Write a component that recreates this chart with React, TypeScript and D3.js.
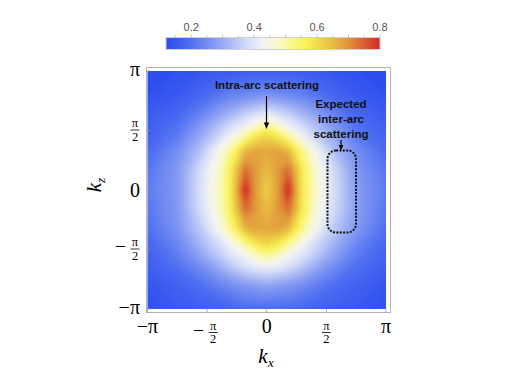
import React from "react";
import * as d3 from "d3";

// grid nodes in units of pi
const kxNodes = [-1, -0.75, -0.55, -0.4, -0.3, -0.18, -0.09, 0, 0.09, 0.18, 0.3, 0.4, 0.55, 0.75, 1];
const kzNodes = [1, 0.8, 0.65, 0.55, 0.45, 0.33, 0.17, 0, -0.17, -0.33, -0.45, -0.55, -0.65, -0.8, -1];
const fieldRows = [
  [0.12, 0.13, 0.14, 0.15, 0.15, 0.16, 0.16, 0.16, 0.16, 0.16, 0.15, 0.15, 0.14, 0.13, 0.12],
  [0.13, 0.15, 0.18, 0.21, 0.23, 0.24, 0.25, 0.26, 0.25, 0.24, 0.23, 0.21, 0.18, 0.15, 0.13],
  [0.15, 0.18, 0.23, 0.28, 0.31, 0.35, 0.37, 0.39, 0.37, 0.35, 0.31, 0.28, 0.23, 0.18, 0.15],
  [0.16, 0.2, 0.27, 0.33, 0.37, 0.41, 0.46, 0.5, 0.46, 0.41, 0.37, 0.33, 0.27, 0.2, 0.16],
  [0.17, 0.22, 0.3, 0.37, 0.43, 0.51, 0.58, 0.61, 0.58, 0.51, 0.43, 0.37, 0.3, 0.22, 0.17],
  [0.19, 0.25, 0.34, 0.44, 0.52, 0.65, 0.68, 0.67, 0.68, 0.65, 0.52, 0.44, 0.34, 0.25, 0.19],
  [0.21, 0.27, 0.38, 0.47, 0.57, 0.74, 0.69, 0.64, 0.69, 0.74, 0.57, 0.47, 0.38, 0.27, 0.21],
  [0.22, 0.27, 0.39, 0.48, 0.57, 0.81, 0.68, 0.62, 0.68, 0.81, 0.57, 0.48, 0.39, 0.28, 0.22],
  [0.21, 0.27, 0.38, 0.47, 0.57, 0.74, 0.69, 0.64, 0.69, 0.74, 0.57, 0.47, 0.38, 0.28, 0.21],
  [0.2, 0.26, 0.35, 0.44, 0.52, 0.65, 0.68, 0.67, 0.68, 0.65, 0.52, 0.44, 0.35, 0.27, 0.2],
  [0.18, 0.24, 0.32, 0.38, 0.44, 0.52, 0.58, 0.61, 0.58, 0.52, 0.44, 0.38, 0.32, 0.24, 0.18],
  [0.17, 0.22, 0.29, 0.35, 0.39, 0.43, 0.48, 0.52, 0.48, 0.43, 0.39, 0.35, 0.29, 0.22, 0.17],
  [0.16, 0.2, 0.25, 0.3, 0.34, 0.38, 0.4, 0.41, 0.4, 0.38, 0.34, 0.3, 0.25, 0.2, 0.16],
  [0.14, 0.17, 0.2, 0.23, 0.25, 0.27, 0.28, 0.29, 0.28, 0.27, 0.25, 0.23, 0.2, 0.17, 0.14],
  [0.13, 0.15, 0.16, 0.17, 0.18, 0.19, 0.19, 0.19, 0.19, 0.19, 0.18, 0.17, 0.16, 0.15, 0.13],
];

const axisTicks = [-1, -0.5, 0, 0.5, 1];
const axisTickLabels = ["−π", "−π/2", "0", "π/2", "π"];
const barTicks = [0.2, 0.4, 0.6, 0.8];
const barDomain = [0.12, 0.8];

// temperature-like colour map
const stopValues = [0.12, 0.2, 0.3, 0.38, 0.43, 0.48, 0.53, 0.57, 0.62, 0.7, 0.8];
const stopColors = ["#2d4cef", "#4f6ff1", "#98aaf3", "#d6def8", "#f3f3f5", "#f8f8c6", "#fbf77a", "#f8ef52", "#edcf48", "#e0943a", "#d32727"];

const PI = Math.PI;
const serif = "'Liberation Serif', 'DejaVu Serif', serif";
const sans = "'Liberation Sans', Arial, sans-serif";

function TickLabel({ label, x, y, anchor }: { label: string; x: number; y: number; anchor: "middle" | "end" }) {
  if (!label.includes("/")) {
    return (
      <text x={x} y={y} textAnchor={anchor} fontFamily={serif} fontSize={20}>
        {label}
      </text>
    );
  }
  const neg = label.startsWith("−");
  const fracX = anchor === "middle" ? x + (neg ? 6 : 0) : x - 5;
  return (
    <g fontFamily={serif}>
      {neg && (
        <text x={fracX - 9} y={y + 3.5} textAnchor="end" fontSize={20}>
          −
        </text>
      )}
      <text x={fracX} y={y - 3.5} textAnchor="middle" fontSize={12.5}>
        π
      </text>
      <line x1={fracX - 4.5} x2={fracX + 4.5} y1={y - 0.5} y2={y - 0.5} stroke="#000" strokeWidth={0.8} />
      <text x={fracX} y={y + 10} textAnchor="middle" fontSize={12.5}>
        2
      </text>
    </g>
  );
}

export default function App() {
  const x = d3.scaleLinear().domain([-PI, PI]).range([147.5, 386]);
  const y = d3.scaleLinear().domain([-PI, PI]).range([309, 71]);
  const color = d3.scaleLinear<string>().domain(stopValues).range(stopColors).interpolate(d3.interpolateRgb).clamp(true);
  const bar = d3.scaleLinear().domain(barDomain).range([166, 380]);

  const nx = kxNodes.length;
  const nz = kzNodes.length;
  // grid index space -> screen (value i sits at index i + 0.5)
  const gx = d3
    .scaleLinear()
    .domain([0, ...kxNodes.map((_, i) => i + 0.5), nx])
    .range([x(-PI) - 10, ...kxNodes.map((k) => x(k * PI)), x(PI) + 10]);
  const gy = d3
    .scaleLinear()
    .domain([0, ...kzNodes.map((_, i) => i + 0.5), nz])
    .range([y(PI) - 10, ...kzNodes.map((k) => y(k * PI)), y(-PI) + 10]);
  const toScreen = d3.geoTransform({
    point(px: number, py: number) {
      (this as any).stream.point(gx(px), gy(py));
    },
  });
  const path = d3.geoPath(toScreen);
  const thresholds = d3.range(0.1, 0.86, 0.01);
  const bands = d3.contours().size([nx, nz]).thresholds(thresholds)(fieldRows.flat());

  const minorBar = d3.range(0.15, 0.8001, 0.05);

  return (
    <svg width={523} height={370} style={{ position: "absolute", left: 0, top: 0, background: "#fff" }}>
      <defs>
        <filter id="smooth" x="-10%" y="-10%" width="120%" height="120%">
          <feGaussianBlur stdDeviation={2} />
        </filter>
        <clipPath id="plotClip">
          <rect x={x(-PI)} y={y(PI)} width={x(PI) - x(-PI)} height={y(-PI) - y(PI)} />
        </clipPath>
        <linearGradient id="barGrad" x1="0" x2="1" y1="0" y2="0">
          {stopValues.map((v, i) => (
            <stop key={i} offset={(v - barDomain[0]) / (barDomain[1] - barDomain[0])} stopColor={stopColors[i]} />
          ))}
        </linearGradient>
      </defs>

      {/* colour bar */}
      <rect x={bar(barDomain[0])} y={37.5} width={bar(barDomain[1]) - bar(barDomain[0])} height={12} fill="url(#barGrad)" stroke="#d0d0d0" strokeWidth={1} />
      {minorBar.map((v, i) => {
        const major = Math.abs(Math.round(v * 10) - v * 10) < 0.01;
        return <line key={i} x1={bar(v)} x2={bar(v)} y1={37.5} y2={major ? 34.5 : 35.5} stroke="#aaa" strokeWidth={0.7} />;
      })}
      {barTicks.map((t) => (
        <text key={t} x={bar(t)} y={31} textAnchor="middle" fontFamily={sans} fontSize={11} fill="#555">
          {t.toFixed(1)}
        </text>
      ))}

      {/* density map */}
      <g clipPath="url(#plotClip)">
        <g filter="url(#smooth)">
          {bands.map((b, i) => (
            <path key={i} d={path(b as any) || ""} fill={color(b.value + 0.005)} stroke={color(b.value + 0.005)} strokeWidth={0.5} />
          ))}
        </g>
      </g>

      {/* frame */}
      <rect x={146.5} y={67.5} width={244} height={245} fill="none" stroke="#b4b4b4" strokeWidth={1} />
      {axisTicks.map((t) => (
        <g key={t}>
          <line x1={x(t * PI)} x2={x(t * PI)} y1={312.5} y2={309} stroke="#999" strokeWidth={0.8} />
          <line x1={146.5} x2={150} y1={y(t * PI)} y2={y(t * PI)} stroke="#999" strokeWidth={0.8} />
        </g>
      ))}
      {axisTicks.map((t, i) => (
        <TickLabel key={"x" + t} label={axisTickLabels[i]} x={x(t * PI)} y={333} anchor="middle" />
      ))}
      {axisTicks.map((t, i) => (
        <TickLabel key={"y" + t} label={axisTickLabels[i]} x={140} y={y(t * PI) + (axisTickLabels[i].includes("/") ? 0 : axisTickLabels[i] === "0" ? 6.5 : 4.5)} anchor="end" />
      ))}

      {/* axis titles */}
      <text x={266} y={363} textAnchor="middle" fontFamily={serif} fontSize={21} fontStyle="italic">
        k<tspan fontSize={13.5} dy={4}>x</tspan>
      </text>
      <text transform="translate(101,185) rotate(-90)" textAnchor="middle" fontFamily={serif} fontSize={21} fontStyle="italic">
        k<tspan fontSize={13.5} dy={4}>z</tspan>
      </text>

      {/* annotations */}
      <text x={267} y={89} textAnchor="middle" fontFamily={sans} fontWeight="bold" fontSize={11.5} fill="#111">
        Intra-arc scattering
      </text>
      <line x1={266.5} x2={266.5} y1={96} y2={124} stroke="#000" strokeWidth={1.2} />
      <polygon points="266.5,129 263.8,122.5 269.2,122.5" fill="#000" />

      <g fontFamily={sans} fontWeight="bold" fontSize={11.5} fill="#111" textAnchor="middle">
        <text x={341} y={108}>Expected</text>
        <text x={341} y={123}>inter-arc</text>
        <text x={341} y={137.5}>scattering</text>
      </g>
      <line x1={341} x2={341} y1={140} y2={146} stroke="#000" strokeWidth={1.2} />
      <polygon points="341,150.5 338.6,145 343.4,145" fill="#000" />
      <rect x={327.5} y={150.5} width={28.5} height={82} rx={8.5} fill="none" stroke="#111" strokeWidth={2} strokeDasharray="2 1.4" />
    </svg>
  );
}
